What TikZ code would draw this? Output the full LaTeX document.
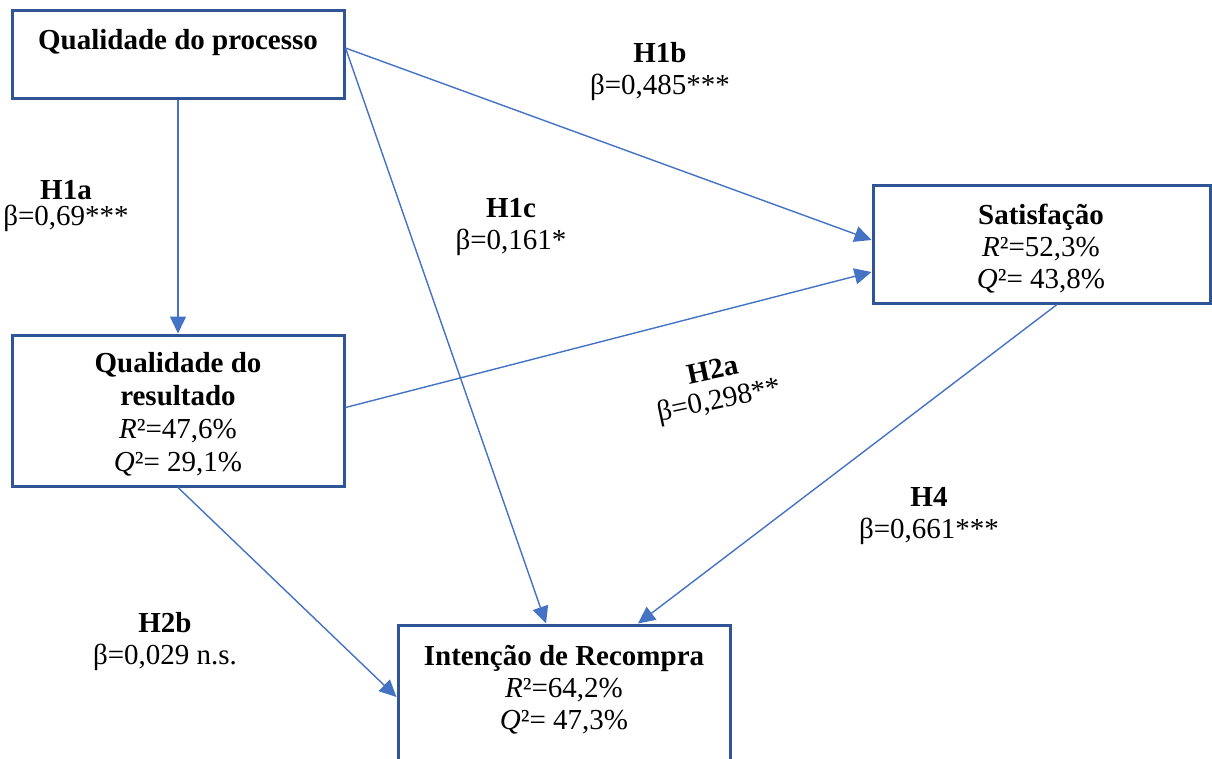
\documentclass[tikz,border=0pt]{standalone}
\usepackage{fontspec}
\setmainfont{Liberation Serif}
\usetikzlibrary{arrows.meta}
\definecolor{boxblue}{HTML}{2F5597}
\definecolor{lineblue}{HTML}{4472C4}

\begin{document}
\begin{tikzpicture}[x=1pt,y=-1pt,
	every node/.style={font=\fontsize{29}{32}\selectfont, align=center, inner sep=0pt},
	varbox/.style={draw=boxblue, line width=3pt, minimum width=#1},
	path/.style={draw=lineblue, line width=1.4pt, -{Triangle[length=17pt,width=16pt]}}]
	\useasboundingbox (0,0) rectangle (1212,758);
	% boxes
	\node[varbox=332pt, minimum height=88pt] (qp) at (178,54) {};
	\node[varbox=332pt, minimum height=151pt] (qr) at (178,410.5) {};
	\node[varbox=337pt, minimum height=118pt] (sat) at (1041.5,244) {};
	\node[varbox=332pt, minimum height=150pt] (ir) at (564,700) {};
	\node (qptxt) at (178,43) {\textbf{Qualidade do processo}};
	\node[font=\fontsize{29}{33}\selectfont] (qrtxt) at (178,414) {\textbf{Qualidade do}\\\textbf{resultado}\\\textit{R}²=47,6\%\\\textit{Q}²= 29,1\%};
	\node (sattxt) at (1041,249) {\textbf{Satisfação}\\\textit{R}²=52,3\%\\\textit{Q}²= 43,8\%};
	\node (irtxt) at (564,690) {\textbf{Intenção de Recompra}\\\textit{R}²=64,2\%\\\textit{Q}²= 47,3\%};
	% paths
	\draw[path] (qp.south) -- (qr.north);
	\draw[path] ([yshift=6pt]qp.east) -- ([yshift=4pt]sat.west);
	\draw[path] ([yshift=6pt]qp.east) -- ([xshift=-18pt]ir.north);
	\draw[path] ([yshift=3pt]qr.east) -- ([yshift=-28pt]sat.west);
	\draw[path] (qr.south) -- ([yshift=3pt]ir.west);
	\draw[path] ([xshift=15.5pt]sat.south) -- ([xshift=74pt]ir.north);
	% coefficients
	\node (h1a) at (66,206) {\textbf{H1a}\\[-6pt]β=0,69***};
	\node (h1b) at (660,71.5) {\textbf{H1b}\\β=0,485***};
	\node (h1c) at (511,227) {\textbf{H1c}\\β=0,161*};
	\node[rotate=12] (h2a) at (716,387) {\textbf{H2a}\\[-2pt]β=0,298**};
	\node (h2b) at (165,642) {\textbf{H2b}\\β=0,029 n.s.};
	\node (h4) at (929,516) {\textbf{H4}\\β=0,661***};
\end{tikzpicture}
\end{document}
